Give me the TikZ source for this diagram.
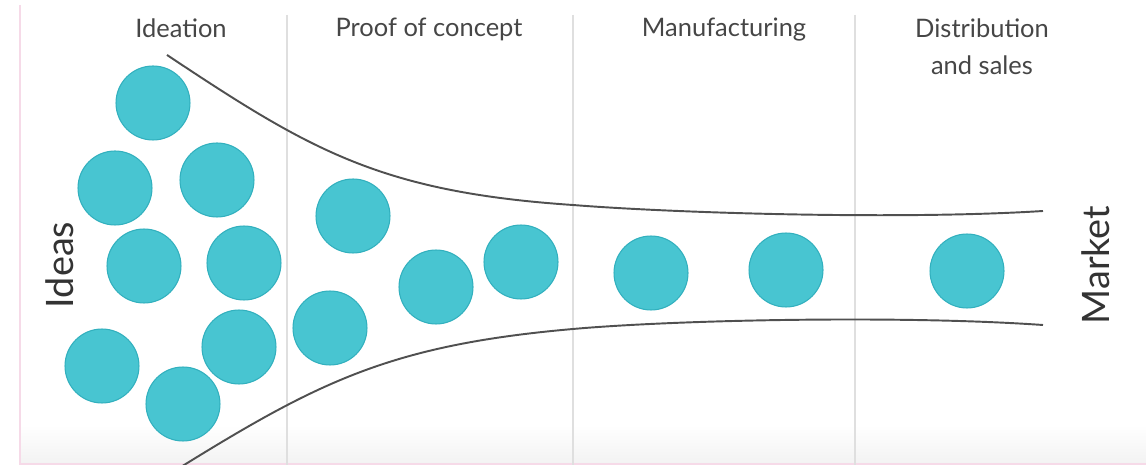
\documentclass[tikz,border=0pt]{standalone}
\usepackage{fontspec}
\setmainfont{Lato}

\definecolor{ideafill}{RGB}{72,197,209}
\definecolor{ideaedge}{RGB}{50,176,190}
\definecolor{funnel}{RGB}{80,80,80}
\definecolor{stagetext}{RGB}{70,70,70}
\definecolor{edgepink}{RGB}{246,218,232}

\tikzset{
    idea/.style={circle, fill=ideafill, draw=ideaedge, line width=0.6pt, minimum size=1.48cm, inner sep=0pt},
    stage/.style={text=stagetext, font=\fontsize{14.5}{21.5}\selectfont, align=center, anchor=north, inner sep=0pt},
    side/.style={text=black!80, font=\fontsize{21.5}{24}\selectfont, rotate=90, inner sep=0pt},
    divider/.style={gray!25, line width=0.8pt},
    funnelline/.style={funnel, line width=1.1pt}
}

\begin{document}
\begin{tikzpicture}[x=0.02cm, y=-0.02cm]
        \useasboundingbox (0,0) rectangle (1146,465);

        % background and edges
        \shade[top color=white, bottom color=gray!10] (20,425) rectangle (1146,465);
        \draw[edgepink, line width=1.2pt] (20,5) -- (20,465);
        \draw[edgepink, line width=1.2pt] (20,464) -- (1146,464);

        % stage dividers
        \draw[divider] (287,15) -- (287,465);
        \draw[divider] (573,15) -- (573,465);
        \draw[divider] (855,15) -- (855,465);

        % stage titles
        \node[stage] (ideation) at (181,18) {Ideation};
        \node[stage] (proof) at (429,18) {Proof of concept};
        \node[stage] (manufacturing) at (724,18) {Manufacturing};
        \node[stage] (distribution) at (982,18) {Distribution\\and sales};

        % funnel
        \coordinate (topstart) at (167,55);
        \coordinate (topmid) at (573,205);
        \coordinate (topend) at (1043,211);
        \coordinate (botstart) at (176,470);
        \coordinate (botmid) at (573,329);
        \coordinate (botend) at (1043,325);
        \draw[funnelline] (topstart) .. controls (310,150) and (380,192) .. (topmid)
                .. controls (673,213) and (900,220) .. (topend);
        \draw[funnelline] (botstart) .. controls (318,382) and (390,345) .. (botmid)
                .. controls (673,320) and (900,315) .. (botend);

        % ideas
        \node[idea] (i1) at (153,103) {};
        \node[idea] (i2) at (115,188) {};
        \node[idea] (i3) at (217,180) {};
        \node[idea] (i4) at (144,266) {};
        \node[idea] (i5) at (244,263) {};
        \node[idea] (i6) at (102,366) {};
        \node[idea] (i7) at (239,347) {};
        \node[idea] (i8) at (183,404) {};
        \node[idea] (i9) at (353,216) {};
        \node[idea] (i10) at (330,328) {};
        \node[idea] (i11) at (436,287) {};
        \node[idea] (i12) at (521,262) {};
        \node[idea] (i13) at (651,273) {};
        \node[idea] (i14) at (786,270) {};
        \node[idea] (i15) at (967,271) {};

        % sides
        \node[side] (ideas) at (60,265) {Ideas};
        \node[side] (market) at (1096,265) {Market};
\end{tikzpicture}
\end{document}
